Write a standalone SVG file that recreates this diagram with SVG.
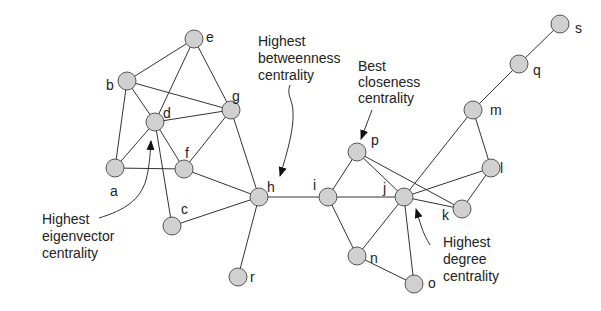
<svg xmlns="http://www.w3.org/2000/svg" width="601" height="311" viewBox="0 0 601 311">
<style>
.n circle{fill:#d0d0d0;stroke:#555;stroke-width:1}
.n text,.t{font-family:"Liberation Sans",Arial,sans-serif;font-size:14px;fill:#222}
.e line{stroke:#333;stroke-width:1}
.a{fill:none;stroke:#333;stroke-width:1}
</style>
<defs>
<marker id="ah" markerWidth="10" markerHeight="8" refX="9" refY="4" orient="auto" markerUnits="userSpaceOnUse">
<path d="M0,0 L10,4 L0,8 Z" fill="#111"/>
</marker>
</defs>
<rect width="601" height="311" fill="#fff"/>
<g id="connectors" class="e">
<line x1="194" y1="39" x2="127" y2="81"/>
<line x1="194" y1="39" x2="155" y2="122"/>
<line x1="194" y1="39" x2="231" y2="110"/>
<line x1="127" y1="81" x2="155" y2="122"/>
<line x1="127" y1="81" x2="231" y2="110"/>
<line x1="127" y1="81" x2="115" y2="168"/>
<line x1="155" y1="122" x2="231" y2="110"/>
<line x1="155" y1="122" x2="115" y2="168"/>
<line x1="155" y1="122" x2="184" y2="169"/>
<line x1="155" y1="122" x2="172" y2="226"/>
<line x1="231" y1="110" x2="184" y2="169"/>
<line x1="231" y1="110" x2="259" y2="197"/>
<line x1="115" y1="168" x2="184" y2="169"/>
<line x1="184" y1="169" x2="259" y2="197"/>
<line x1="259" y1="197" x2="172" y2="226"/>
<line x1="259" y1="197" x2="238" y2="277"/>
<line x1="259" y1="197" x2="328" y2="197"/>
<line x1="328" y1="197" x2="357" y2="152"/>
<line x1="328" y1="197" x2="404" y2="197"/>
<line x1="328" y1="197" x2="357" y2="256"/>
<line x1="357" y1="152" x2="404" y2="197"/>
<line x1="357" y1="152" x2="462" y2="209"/>
<line x1="404" y1="197" x2="473" y2="110"/>
<line x1="404" y1="197" x2="491" y2="168"/>
<line x1="404" y1="197" x2="462" y2="209"/>
<line x1="404" y1="197" x2="357" y2="256"/>
<line x1="404" y1="197" x2="414" y2="284"/>
<line x1="357" y1="256" x2="414" y2="284"/>
<line x1="473" y1="110" x2="491" y2="168"/>
<line x1="473" y1="110" x2="519" y2="64"/>
<line x1="519" y1="64" x2="560" y2="24"/>
<line x1="491" y1="168" x2="462" y2="209"/>
</g>
<g id="node-e" class="n"><circle cx="194" cy="39" r="9"/><text x="206" y="42">e</text></g>
<g id="node-b" class="n"><circle cx="127" cy="81" r="9"/><text x="106" y="90">b</text></g>
<g id="node-d" class="n"><circle cx="155" cy="122" r="9"/><text x="163" y="118">d</text></g>
<g id="node-g" class="n"><circle cx="231" cy="110" r="9"/><text x="232" y="101">g</text></g>
<g id="node-a" class="n"><circle cx="115" cy="168" r="9"/><text x="110" y="196">a</text></g>
<g id="node-f" class="n"><circle cx="184" cy="169" r="9"/><text x="185" y="158">f</text></g>
<g id="node-h" class="n"><circle cx="259" cy="197" r="9"/><text x="267" y="192">h</text></g>
<g id="node-c" class="n"><circle cx="172" cy="226" r="9"/><text x="181" y="214">c</text></g>
<g id="node-r" class="n"><circle cx="238" cy="277" r="9"/><text x="250" y="282">r</text></g>
<g id="node-i" class="n"><circle cx="328" cy="197" r="9"/><text x="313" y="190">i</text></g>
<g id="node-j" class="n"><circle cx="404" cy="197" r="9"/><text x="383" y="193">j</text></g>
<g id="node-p" class="n"><circle cx="357" cy="152" r="9"/><text x="371" y="145">p</text></g>
<g id="node-k" class="n"><circle cx="462" cy="209" r="9"/><text x="442" y="220">k</text></g>
<g id="node-l" class="n"><circle cx="491" cy="168" r="9"/><text x="500" y="173">l</text></g>
<g id="node-m" class="n"><circle cx="473" cy="110" r="9"/><text x="490" y="115">m</text></g>
<g id="node-q" class="n"><circle cx="519" cy="64" r="9"/><text x="533" y="75">q</text></g>
<g id="node-s" class="n"><circle cx="560" cy="24" r="9"/><text x="575" y="33">s</text></g>
<g id="node-n" class="n"><circle cx="357" cy="256" r="9"/><text x="370" y="263">n</text></g>
<g id="node-o" class="n"><circle cx="414" cy="284" r="9"/><text x="428" y="288">o</text></g>
<g id="annotations">
<text class="t" x="258" y="46">Highest</text>
<text class="t" x="258" y="63">betweenness</text>
<text class="t" x="258" y="80">centrality</text>
<path class="a" d="M290,85 C286,95 293,100 293,112 C294,128 288,150 280,176" marker-end="url(#ah)"/>
<text class="t" x="42" y="224">Highest</text>
<text class="t" x="42" y="241">eigenvector</text>
<text class="t" x="42" y="258">centrality</text>
<path class="a" d="M99,218 C125,210 140,200 146,180 C149,168 150,158 151,141" marker-end="url(#ah)"/>
<text class="t" x="358" y="71">Best</text>
<text class="t" x="358" y="87">closeness</text>
<text class="t" x="358" y="103">centrality</text>
<path class="a" d="M372,110 L361,139" marker-end="url(#ah)"/>
<text class="t" x="443" y="247">Highest</text>
<text class="t" x="443" y="264">degree</text>
<text class="t" x="443" y="281">centrality</text>
<path class="a" d="M430,245 C422,232 420,222 416,209" marker-end="url(#ah)"/>
</g>
</svg>
